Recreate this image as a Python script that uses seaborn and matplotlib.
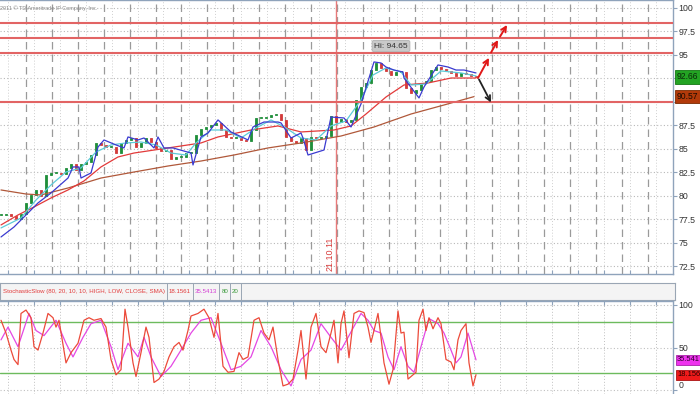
import numpy as np
import pandas as pd
import matplotlib
matplotlib.use("Agg")
import matplotlib.pyplot as plt
import seaborn as sns
from matplotlib import font_manager

# ---------------- data (time index t = 5-minute steps) ----------------
close = [77.98, 78.09, 77.87, 77.55, 78.09, 79.26, 80.11, 80.64, 80.00, 82.23,
         82.45, 82.45, 82.34, 82.98, 83.40, 82.77, 83.40, 83.62, 84.36, 85.64,
         85.43, 85.21, 85.21, 84.57, 85.64, 85.96, 86.17, 85.21, 85.64, 86.17,
         85.74, 85.11, 84.79, 84.89, 83.94, 84.15, 84.15, 84.57, 84.57, 86.49,
         87.13, 87.34, 87.55, 87.77, 87.02, 86.28, 86.17, 86.17, 85.96, 85.85,
         87.02, 88.30, 88.30, 88.40, 88.62, 88.72, 88.09, 86.28, 85.85, 85.64,
         86.17, 84.89, 86.28, 86.17, 86.17, 86.38, 88.51, 87.87, 88.19, 87.87,
         88.09, 90.21, 91.60, 92.02, 93.40, 94.15, 93.62, 93.30, 92.87, 93.19,
         93.19, 91.49, 90.96, 91.28, 92.02, 92.23, 93.40, 93.72, 93.51, 93.30,
         93.09, 92.77, 93.09, 92.98, 92.77, 92.66]
t_close = list(range(0, 5 * len(close), 5))

blue_t = [0, 13, 37, 50, 67, 72, 78, 80, 90, 97, 103, 115, 123, 127, 137, 143, 153, 157, 163, 172,
          190, 192, 200, 207, 217, 230, 247, 252, 263, 277, 280, 290, 300, 302, 307, 323, 330, 343, 350, 360,
          373, 380, 385, 393, 402, 403, 418, 423, 437, 447, 455, 463, 475]
blue_v = [75.64, 76.70, 79.26, 80.32, 81.91, 83.09, 83.09, 81.91, 82.45, 85.21,
          85.96, 85.43, 85.11, 86.28, 85.96, 86.17, 85.11, 86.28, 85.11, 85.11,
          84.57, 83.30, 86.28, 86.70, 88.09, 86.81, 85.96, 87.34, 87.87, 87.87,
          87.77, 86.17, 86.70, 86.17, 84.36, 84.89, 88.40, 88.30, 87.34, 89.79,
          94.26, 94.15, 93.72, 93.40, 93.19, 92.55, 90.43, 91.60, 93.94, 93.72,
          93.40, 93.40, 93.09]
cyan_t = [0, 20, 35, 50, 65, 80, 95, 110, 125, 140, 155, 170, 185, 195, 210, 225, 240, 255, 270, 285,
          300, 315, 330, 345, 360, 372, 385, 400, 410, 425, 440, 460, 475]
cyan_v = [76.60, 77.66, 79.57, 81.17, 82.55, 82.98, 84.68, 85.43, 85.64, 85.74, 85.43, 84.57, 84.36,
          85.64, 87.02, 87.02, 86.17, 87.23, 88.09, 87.23, 86.17, 85.96, 87.45, 87.98, 90.21, 92.87,
          93.62, 93.19, 91.81, 91.91, 93.30, 93.09, 92.77]
red_t = [0, 17, 33, 50, 67, 83, 100, 117, 133, 167, 200, 217, 250, 277, 300, 333, 350, 365, 385, 403,
         427, 450, 475]
red_v = [76.92, 77.98, 78.83, 79.79, 80.64, 81.60, 83.09, 84.15, 84.57, 85.11, 85.64, 86.28, 87.02,
         87.45, 86.81, 87.02, 87.45, 88.72, 90.53, 91.81, 92.02, 92.55, 92.55]
brown_t = [0, 25, 40, 67, 100, 133, 167, 200, 233, 267, 300, 340, 373, 410, 443, 473]
brown_v = [80.64, 80.21, 80.11, 80.85, 81.91, 82.55, 83.19, 83.72, 84.36, 85.11, 85.64, 86.38,
           87.34, 88.72, 89.68, 90.57]

levels = [98.4, 96.85, 95.2, 90.0]
date_marker_t = 335
date_label = "21.10.11"
hi_label = "Hi: 94.65"
last_price = 92.66
last_ma = 90.57
# arrows: (t0, v0, t1, v1)
up_arrows = [(477, 92.55, 488, 94.7), (490, 95.25, 497, 96.6), (499, 96.95, 506, 98.2)]
down_arrow = (478, 92.4, 490, 89.95)

k_t = [0, 5, 10, 13, 17, 20, 25, 30, 33, 37, 42, 47, 52, 55, 58, 65, 70, 77, 83, 88,
       93, 100, 105, 110, 115, 120, 124, 127, 132, 135, 140, 145, 148, 153, 158, 163, 168, 173, 178, 182,
       187, 190, 197, 203, 208, 213, 217, 222, 227, 233, 238, 242, 247, 253, 258, 263, 268, 272, 277, 282,
       287, 292, 297, 300, 305, 310, 315, 320, 325, 330, 333, 337, 340, 343, 348, 353, 358, 363, 367, 370,
       373, 377, 380, 383, 388, 392, 397, 400, 403, 407, 410, 415, 418, 422, 425, 428, 432, 437, 440, 445,
       450, 453, 457, 460, 465, 468, 472, 475]
k_v = [82, 67, 47, 36, 30, 90, 94, 85, 51, 47, 67, 90, 85, 74, 82, 32, 44, 55, 82, 85,
       82, 84, 74, 36, 18, 24, 95, 74, 32, 16, 44, 74, 62, 9, 13, 22, 39, 51, 56, 47,
       70, 87, 90, 95, 85, 62, 90, 28, 21, 22, 44, 36, 39, 82, 85, 67, 59, 74, 36, 5,
       7, 13, 47, 70, 13, 74, 90, 51, 44, 67, 82, 32, 78, 93, 38, 90, 93, 91, 74, 56,
       70, 90, 62, 32, 7, 24, 93, 67, 68, 13, 16, 21, 82, 95, 70, 85, 72, 85, 78, 36,
       33, 24, 59, 70, 78, 32, 5, 18.16]
d_t = [0, 7, 17, 28, 35, 43, 55, 65, 72, 82, 90, 100, 110, 117, 127, 137, 143, 150, 160, 170,
       180, 190, 200, 210, 220, 230, 240, 250, 260, 270, 280, 290, 300, 310, 320, 330, 340, 348, 360, 367,
       373, 380, 387, 393, 400, 407, 413, 420, 428, 437, 443, 450, 455, 460, 467, 475]
d_v = [59, 74, 51, 90, 70, 64, 82, 55, 39, 62, 78, 82, 51, 24, 55, 39, 62, 39, 16, 28,
       47, 67, 82, 85, 55, 24, 28, 39, 70, 51, 24, 5, 36, 47, 78, 62, 47, 64, 90, 82,
       70, 67, 39, 24, 51, 28, 21, 51, 84, 78, 67, 47, 32, 39, 67, 35.54]

main_ticks = [72.5, 75, 77.5, 80, 82.5, 85, 87.5, 90, 92.5, 95, 97.5, 100]
main_tick_labels = ["72.5", "75", "77.5", "80", "82.5", "85", "87.5", "", "", "95", "97.5", "100"]
stoch_ticks = [0, 50, 100]
stoch_levels = [80, 20]
header_title = "StochasticSlow (80, 20, 10, 10, HIGH, LOW, CLOSE, SMA)"
header_vals = [("18.1561", "#e23b3b"), ("35.5413", "#d43cd4"), ("80", "#3a9a3a"), ("20", "#3a9a3a")]
k_last, d_last = "18.156", "35.541"
copyright_text = "2011 \u00a9 TD Ameritrade IP Company, Inc."

for a, b in [(blue_t, blue_v), (cyan_t, cyan_v), (red_t, red_v), (brown_t, brown_v), (k_t, k_v), (d_t, d_v)]:
    assert len(a) == len(b), (len(a), len(b))

# ---------------- style ----------------
sns.set_style("white")
names = {f.name for f in font_manager.fontManager.ttflist}
fam = [n for n in ["Liberation Sans Narrow", "Liberation Sans", "DejaVu Sans"] if n in names]
plt.rcParams["font.family"] = fam

W, H = 700, 394
fig = plt.figure(figsize=(7, 3.94), dpi=100)
fig.patch.set_facecolor("white")
SP = "#8fa3bb"


def fx(px):
    return px / W


def fy(py):
    return 1 - py / H


ax = fig.add_axes([0, fy(274), fx(673), 274 / H])
axh = fig.add_axes([0, fy(300), fx(675), 17 / H])
axs = fig.add_axes([0, 0, fx(673), 93 / H])

XL = (-1, 672)
ax.set_xlim(*XL)
ax.set_ylim(71.7, 100.85)
axs.set_xlim(*XL)
axs.set_ylim(-4.5, 104.6)

dash_x = np.arange(25, 672, 25.9)
dot_x = np.arange(7, 672, 25.9)

# grids
for v in main_ticks:
    ax.axhline(v, color="#b8b8b8", lw=0.8, ls=(0, (1, 2)), zorder=0)
for x in dash_x:
    ax.axvline(x, color="#9a9a9a", lw=0.9, ls=(0, (6, 4)), zorder=0)
for x in dot_x:
    ax.axvline(x, color="#cfcfcf", lw=0.7, ls=(0, (1, 2)), zorder=0)

# candles
opens = [close[0]] + close[:-1]
body_bottom = [min(o, c) for o, c in zip(opens, close)]
body_h = [max(abs(c - o), 0.12) for o, c in zip(opens, close)]
cols = ["#1f8f3a" if c >= o else "#d33a3a" for o, c in zip(opens, close)]
ax.bar(t_close, body_h, bottom=body_bottom, width=2.2, color=cols, edgecolor=cols, lw=0.6, zorder=3)

df_ma = pd.concat([
    pd.DataFrame({"t": brown_t, "v": brown_v, "s": "brown"}),
    pd.DataFrame({"t": red_t, "v": red_v, "s": "red"}),
    pd.DataFrame({"t": cyan_t, "v": cyan_v, "s": "cyan"}),
    pd.DataFrame({"t": blue_t, "v": blue_v, "s": "blue"}),
])
pal = {"brown": "#b0583a", "red": "#e23a3a", "cyan": "#5ccbd8", "blue": "#3a3ad0"}
sns.lineplot(data=df_ma, x="t", y="v", hue="s", palette=pal, estimator=None, sort=False,
             lw=0.9, legend=False, ax=ax, zorder=4)

for v in levels:
    ax.axhline(v, color="#e26464", lw=1.5, zorder=5)

ax.axvline(date_marker_t, color="#e87a7a", lw=1.0, zorder=2)
ax.text(date_marker_t - 1.5, 72.0, date_label, rotation=90, ha="right", va="bottom",
        color="#d83a3a", fontsize=6.5, zorder=6)

for (t0, v0, t1, v1) in up_arrows:
    ax.annotate("", xy=(t1, v1), xytext=(t0, v0),
                arrowprops=dict(arrowstyle="->", color="#e01818", lw=1.4, mutation_scale=9,
                                shrinkA=0, shrinkB=0), zorder=7)
t0, v0, t1, v1 = down_arrow
ax.annotate("", xy=(t1, v1), xytext=(t0, v0),
            arrowprops=dict(arrowstyle="->", color="#222222", lw=1.3, mutation_scale=9,
                            shrinkA=0, shrinkB=0), zorder=7)

ax.text(390, 95.95, hi_label, ha="center", va="center", fontsize=6, color="#333333", zorder=8,
        bbox=dict(boxstyle="round,pad=0.25,rounding_size=0.2", fc="#c9c9c9", ec="#b0b0b0", lw=0.6))

# right axis
ax.yaxis.tick_right()
ax.set_yticks(main_ticks)
ax.set_yticklabels(main_tick_labels)
ax.tick_params(axis="y", right=True, left=False, length=3, width=0.8, color=SP, pad=1,
               labelsize=6.3, labelcolor="#333333")
ax.set_xticks(dot_x)
ax.tick_params(axis="x", bottom=True, length=3, direction="in", color=SP, labelbottom=False)
ax.set_xlabel("")
ax.set_ylabel("")
ax.spines["left"].set_visible(False)
for s in ["top", "right", "bottom"]:
    ax.spines[s].set_color(SP)
    ax.spines[s].set_linewidth(1.0)

tr = ax.get_yaxis_transform()
ax.text(1.006, last_price, f"{last_price:.2f}", transform=tr, ha="left", va="center", fontsize=6.2,
        color="#0a2a0a", zorder=10, clip_on=False,
        bbox=dict(boxstyle="square,pad=0.25", fc="#23a323", ec="#137713", lw=0.6))
ax.text(1.006, last_ma, f"{last_ma:.2f}", transform=tr, ha="left", va="center", fontsize=6.2,
        color="#1a0a00", zorder=10, clip_on=False,
        bbox=dict(boxstyle="square,pad=0.25", fc="#b23a0a", ec="#7a2a00", lw=0.6))

# ---------------- header ----------------
axh.set_facecolor("#f4f4f4")
axh.set_xticks([])
axh.set_yticks([])
for s in axh.spines.values():
    s.set_color("#9aa6b4")
    s.set_linewidth(0.8)
axh.set_xlim(0, 675)
axh.set_ylim(0, 1)
fig.canvas.draw()
rend = fig.canvas.get_renderer()
HFS = 4.4
t = axh.text(3, 0.5, header_title, va="center", ha="left", fontsize=HFS, color="#e23b3b")
bb = t.get_window_extent(rend)
xpos = bb.x1 + 2
for txt, c in header_vals:
    axh.plot([xpos, xpos], [0, 1], color="#9aa6b4", lw=0.7)
    t = axh.text(xpos + 2, 0.5, txt, va="center", ha="left", fontsize=HFS, color=c)
    bb = t.get_window_extent(rend)
    xpos = bb.x1 + 2
axh.plot([xpos, xpos], [0, 1], color="#9aa6b4", lw=0.7)

# ---------------- stochastic ----------------
for v in stoch_ticks:
    axs.axhline(v, color="#c0c0c0", lw=0.8, ls=(0, (1, 2)), zorder=0)
for x in dot_x:
    axs.axvline(x, color="#c0c0c0", lw=0.7, ls=(0, (1, 2)), zorder=0)
for v in stoch_levels:
    axs.axhline(v, color="#6dbb5e", lw=1.0, zorder=2)

df_st = pd.concat([
    pd.DataFrame({"t": d_t, "v": d_v, "s": "D"}),
    pd.DataFrame({"t": k_t, "v": k_v, "s": "K"}),
])
sns.lineplot(data=df_st, x="t", y="v", hue="s", palette={"K": "#ec4a3a", "D": "#e448e4"},
             estimator=None, sort=False, lw=0.9, legend=False, ax=axs, zorder=4)
axs.yaxis.tick_right()
axs.set_yticks(stoch_ticks)
axs.set_yticklabels([str(v) for v in stoch_ticks])
axs.tick_params(axis="y", right=True, left=False, length=3, width=0.8, color=SP, pad=1,
                labelsize=6.3, labelcolor="#333333")
axs.get_yticklabels()[0].set_va("bottom")
axs.set_xticks(dot_x)
axs.tick_params(axis="x", top=True, bottom=False, length=3, direction="in", color=SP,
                labelbottom=False)
axs.set_xlabel("")
axs.set_ylabel("")
axs.spines["left"].set_visible(False)
axs.spines["bottom"].set_visible(False)
for s in ["top", "right"]:
    axs.spines[s].set_color(SP)
    axs.spines[s].set_linewidth(1.0)
trs = axs.get_yaxis_transform()
axs.text(1.006, float(d_v[-1]), d_last, transform=trs, ha="left", va="center", fontsize=5.4,
         color="#2a002a", zorder=10, clip_on=False,
         bbox=dict(boxstyle="square,pad=0.2", fc="#ee33ee", ec="#aa22aa", lw=0.6))
axs.text(1.006, float(k_v[-1]), k_last, transform=trs, ha="left", va="center", fontsize=5.4,
         color="#2a0000", zorder=10, clip_on=False,
         bbox=dict(boxstyle="square,pad=0.2", fc="#ee1a1a", ec="#aa1111", lw=0.6))

fig.text(fx(0), fy(8), copyright_text, fontsize=4.0, color="#8a8a8a", ha="left", va="center")

fig.savefig("out.png", dpi=100)
